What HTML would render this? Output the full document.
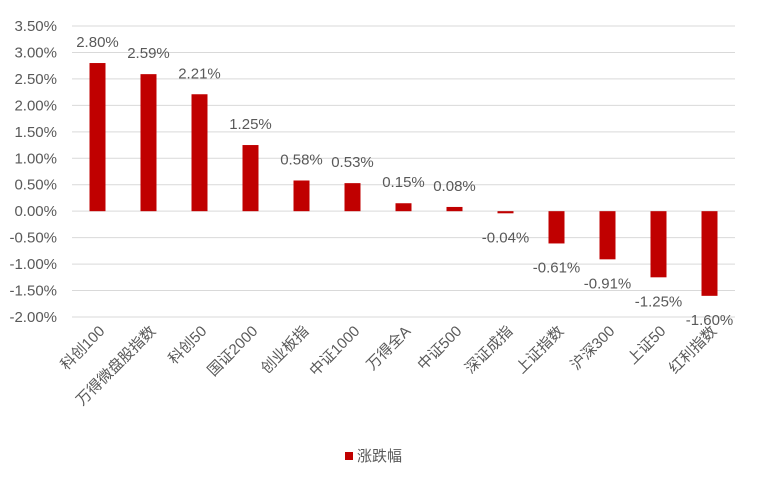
<!DOCTYPE html>
<html><head><meta charset="utf-8"><style>
body{margin:0;background:#fff;}
svg{font-family:"Liberation Sans","Noto Sans CJK SC",sans-serif;}
</style></head><body>
<svg id="chart" width="774" height="474"></svg>
<script>
const categories=["科创100","万得微盘股指数","科创50","国证2000","创业板指","中证1000","万得全A","中证500","深证成指","上证指数","沪深300","上证50","红利指数"];
const values=[2.80,2.59,2.21,1.25,0.58,0.53,0.15,0.08,-0.04,-0.61,-0.91,-1.25,-1.60];
const ticks=[3.5,3,2.5,2,1.5,1,0.5,0,-0.5,-1,-1.5,-2];
const NS="http://www.w3.org/2000/svg";
const svg=document.getElementById('chart');
const L=72,R=735,T=26,B=317,vmax=3.5,vmin=-2;
const y=v=>T+(vmax-v)/(vmax-vmin)*(B-T);
const band=(R-L)/categories.length;
const x=i=>L+band*(i+0.5);
function mk(t,a){const e=document.createElementNS(NS,t);for(const k in a)e.setAttribute(k,a[k]);svg.appendChild(e);return e;}
ticks.forEach(t=>{
  const g=mk('line',{x1:L,x2:R,y1:y(t),y2:y(t),stroke:'#d9d9d9','stroke-width':1});
  
  
  const tx=mk('text',{x:57,y:y(t)+5,'text-anchor':'end','font-size':15,fill:'#595959'});
  tx.textContent=t.toFixed(2)+'%';
  
  
});
values.forEach((v,i)=>{
  const y0=y(0),yv=y(v);
  const r=mk('rect',{x:x(i)-8,y:Math.min(y0,yv),width:16,height:Math.max(Math.abs(yv-y0),1),fill:'#c00000'});
  
  
  const ly=v>=0?yv-16:yv+29;
  const lt=mk('text',{x:x(i),y:ly,'text-anchor':'middle','font-size':15,fill:'#595959'});
  lt.textContent=v.toFixed(2)+'%';
  
  
  const ct=mk('text',{x:x(i)+8,y:332,'text-anchor':'end','font-size':15,fill:'#595959',transform:`rotate(-45 ${x(i)+8} 332)`});
  ct.textContent=categories[i];
  
  
});
const ls=mk('rect',{x:345,y:452,width:8,height:8,fill:'#c00000'});


const lt=mk('text',{x:357,y:461,'font-size':15,fill:'#595959'});
lt.textContent='涨跌幅';


</script>
</body></html>
